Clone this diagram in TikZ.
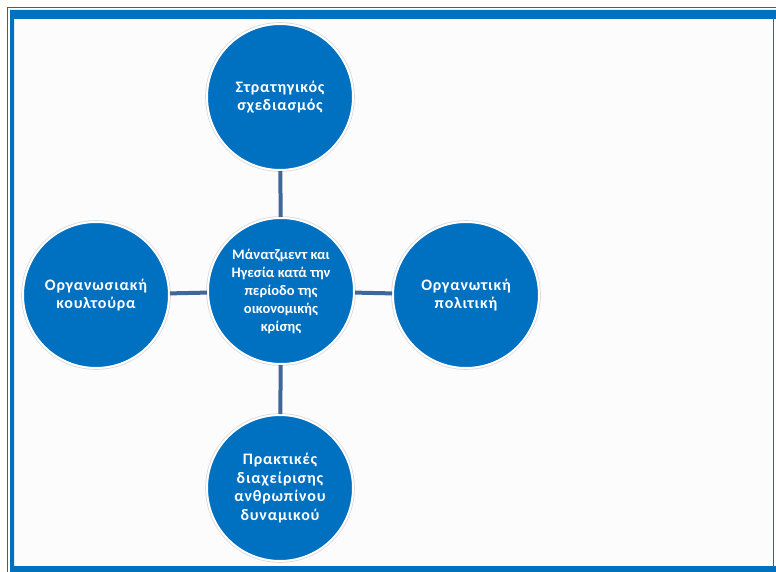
\documentclass[tikz,border=0pt]{standalone}
\usepackage{fontspec}
\setmainfont{Carlito}
\usepackage{tikz}
\definecolor{circblue}{HTML}{0070C0}
\definecolor{linkblue}{HTML}{41669A}
\definecolor{paper}{HTML}{FCFCFC}

\begin{document}
\begin{tikzpicture}[x=1pt,y=-1pt,
	default/.style={circle, fill=circblue, draw=white, line width=2pt, preaction={draw=black!15, line width=3.6pt}, minimum size=146pt, inner sep=0pt, text=white, align=center, font=\fontsize{16}{18.5}\selectfont\bfseries\addfontfeature{LetterSpace=5}},
	link/.style={linkblue, line width=4pt}]
	\useasboundingbox (0,0) rectangle (776,572);
	% frame
	\fill[paper] (14,19) rectangle (773,566);
	\draw[circblue, line width=1.3pt] (7.5,572) -- (7.5,7.5) -- (776,7.5);
	\fill[circblue] (10,572) -- (10,10) -- (776,10) -- (776,19) -- (14,19) -- (14,566) -- (776,566) -- (776,572) -- cycle;
	\draw[circblue, line width=1.3pt] (773.5,19) -- (773.5,566);

	\node[default] at (280,97) (plan) {Στρατηγικός\\σχεδιασμός};
	\node[default, font=\fontsize{14.5}{18}\selectfont\bfseries] at (281,291) (core) {Μάνατζμεντ και\\Ηγεσία κατά την\\περίοδο της\\οικονομικής\\κρίσης};
	\node[default] at (96,295) (cult) {Οργανωσιακή\\κουλτούρα};
	\node[default] at (466,295) (pol) {Οργανωτική\\πολιτική};
	\node[default] at (280,488) (hrm) {Πρακτικές\\διαχείρισης\\ανθρωπίνου\\δυναμικού};

	\draw[link] (plan) -- (core);
	\draw[link] (core) -- (hrm);
	\draw[link] (cult) -- (core);
	\draw[link] (core) -- (pol);
\end{tikzpicture}
\end{document}
